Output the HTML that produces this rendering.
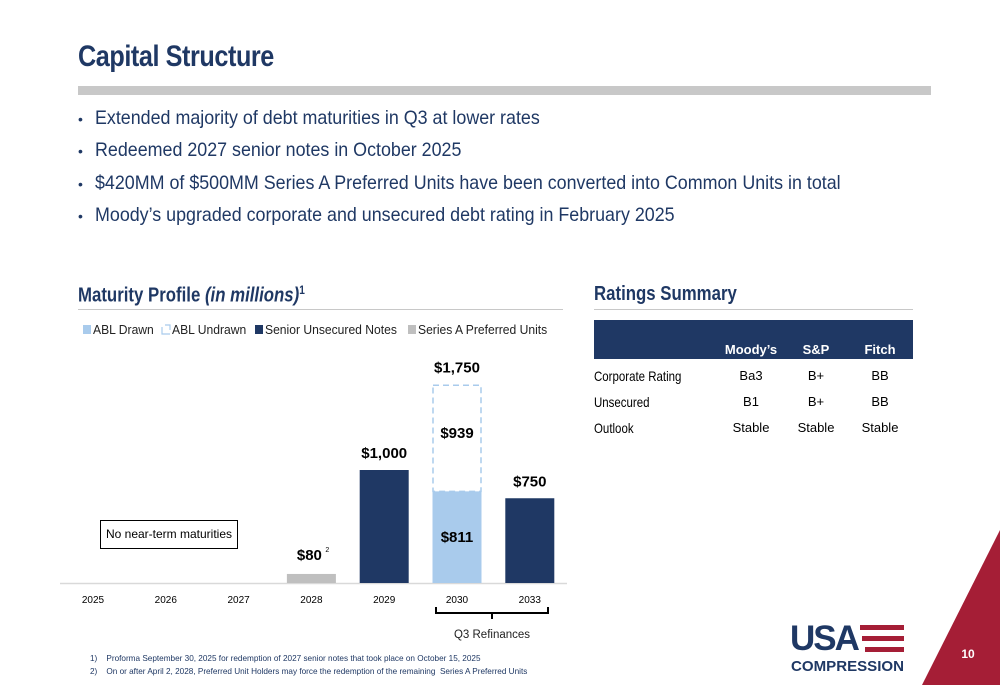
<!DOCTYPE html>
<html><head><meta charset="utf-8">
<style>
body{margin:0;width:1000px;height:685px;overflow:hidden;background:#fff;font-family:"Liberation Sans",sans-serif;position:relative;color:#1f3864}
.a{position:absolute;white-space:nowrap}
.b{font-size:19.5px;color:#1f3864;transform:scaleX(0.916);transform-origin:0 0}
.sx{transform:scaleX(0.84);transform-origin:0 0}
</style></head><body>
<div class="a sx" style="left:78px;top:40px;font-size:30px;font-weight:bold;letter-spacing:-0.5px">Capital Structure</div>
<div class="a" style="left:78px;top:86px;width:853px;height:9px;background:#c8c8c8"></div>
<div>
<div class="a" style="left:78px;top:111px;font-size:14px">•</div><div class="a b" style="left:95px;top:107px">Extended majority of debt maturities in Q3 at lower rates</div>
<div class="a" style="left:78px;top:143px;font-size:14px">•</div><div class="a b" style="left:95px;top:139px">Redeemed 2027 senior notes in October 2025</div>
<div class="a" style="left:78px;top:176px;font-size:14px">•</div><div class="a b" style="left:95px;top:172px">$420MM of $500MM Series A Preferred Units have been converted into Common Units in total</div>
<div class="a" style="left:78px;top:208px;font-size:14px">•</div><div class="a b" style="left:95px;top:204px">Moody’s upgraded corporate and unsecured debt rating in February 2025</div>
</div>
<div class="a sx" style="left:78px;top:283px;font-size:20px;font-weight:bold">Maturity Profile <i>(in millions)</i><sup style="font-size:12px">1</sup></div>
<div class="a" style="left:78px;top:309px;width:485px;height:1px;background:#c8c8c8"></div>
<div class="a sx" style="left:594px;top:283px;font-size:20px;font-weight:bold">Ratings Summary</div>
<div class="a" style="left:594px;top:309px;width:319px;height:1px;background:#c8c8c8"></div>

<div class="a" style="left:594px;top:320px;width:319px;height:39px;background:#1f3864"></div>
<div id="rt"></div>

<svg class="a" style="left:0;top:0" width="1000" height="685" id="chart"></svg>

<div class="a" style="left:100px;top:520px;width:138px;height:29px;border:1.5px solid #000;box-sizing:border-box;font-size:12px;color:#000;text-align:center;line-height:27px">No near-term maturities</div>
<div class="a" style="left:90px;top:654px;font-size:8.2px">1)&nbsp;&nbsp;&nbsp; Proforma September 30, 2025 for redemption of 2027 senior notes that took place on October 15, 2025</div>
<div class="a" style="left:90px;top:667px;font-size:8.2px">2)&nbsp;&nbsp;&nbsp; On or after April 2, 2028, Preferred Unit Holders may force the redemption of the remaining&nbsp; Series A Preferred Units</div>

<svg class="a" style="left:0;top:0" width="1000" height="685">
<polygon points="1000,530 1000,685 922,685" fill="#a51e36"/>
<text x="968" y="658" font-size="12" font-weight="bold" fill="#fff" text-anchor="middle" font-family="Liberation Sans">10</text>
<g>
<text x="790" y="650" font-size="35" font-weight="bold" fill="#1f3864" font-family="Liberation Sans" letter-spacing="-2">USA</text>
<rect x="860" y="625" width="44" height="5" fill="#a51e36"/>
<rect x="862" y="636" width="42" height="5" fill="#a51e36"/>
<rect x="865" y="647" width="39" height="5" fill="#a51e36"/>
<text x="791" y="671" font-size="15" font-weight="bold" fill="#1f3864" font-family="Liberation Sans" textLength="113" lengthAdjust="spacingAndGlyphs">COMPRESSION</text>
</g>
</svg>

<script>
// ratings table
const raters=["Moody’s","S&P","Fitch"];
const rowNames=["Corporate Rating","Unsecured","Outlook"];
const ratings=[["Ba3","B+","BB"],["B1","B+","BB"],["Stable","Stable","Stable"]];
const rt=document.getElementById('rt');
const cx=[751,816,880];
raters.forEach((r,i)=>{const d=document.createElement('div');d.className='a';d.textContent=r;


d.style.cssText=`left:${cx[i]-40}px;width:80px;text-align:center;top:342px;font-size:13px;font-weight:bold;color:#fff`;rt.appendChild(d);});
rowNames.forEach((n,j)=>{const y=368+j*26;const d=document.createElement('div');d.className='a';d.textContent=n;


d.style.cssText=`left:594px;top:${y}px;font-size:14px;color:#000;transform:scaleX(0.82);transform-origin:0 0`;rt.appendChild(d);
ratings[j].forEach((v,i)=>{const e=document.createElement('div');e.className='a';e.textContent=v;


e.style.cssText=`left:${cx[i]-40}px;width:80px;text-align:center;top:${y}px;font-size:13px;color:#000`;rt.appendChild(e);});});

// chart data
const years=["2025","2026","2027","2028","2029","2030","2033"];
const preferred=[0,0,0,80,0,0,0];
const notes=[0,0,0,0,1000,0,750];
const ablDrawn=[0,0,0,0,0,811,0];
const ablUndrawn=[0,0,0,0,0,939,0];
const NS='http://www.w3.org/2000/svg';
const svg=document.getElementById('chart');
const base=583,scale=0.113;
const xc=i=>93+i*72.8, yv=v=>base-v*scale, bw=49;
function el(t,a,txt){const e=document.createElementNS(NS,t);for(const k in a)e.setAttribute(k,a[k]);if(txt!=null)e.textContent=txt;svg.appendChild(e);return e;}
function lab(x,y,s,name){const t=el('text',{x:x,y:y,'text-anchor':'middle','font-size':15,'font-weight':'bold',fill:'#000','font-family':'Liberation Sans, sans-serif'},s);

return t;}
const fmt=v=>'$'+v.toLocaleString('en-US');
// axis
const ax=el('line',{x1:60,x2:567,y1:base+0.5,y2:base+0.5,stroke:'#d9d9d9','stroke-width':1.5});


years.forEach((y,i)=>{const t=el('text',{x:xc(i),y:603,'text-anchor':'middle','font-size':10,fill:'#000','font-family':'Liberation Sans'},y);


const x=xc(i)-bw/2;
if(preferred[i]){const r=el('rect',{x:x,y:yv(preferred[i]),width:bw,height:preferred[i]*scale,fill:'#bfbfbf'});


lab(xc(i)-2,yv(preferred[i])-14,fmt(preferred[i]),'label-preferred');
const s=el('text',{x:xc(i)+14,y:yv(preferred[i])-22,'font-size':7,fill:'#000'},'2');

}
if(notes[i]){const r=el('rect',{x:x,y:yv(notes[i]),width:bw,height:notes[i]*scale,fill:'#1f3864'});


lab(xc(i),yv(notes[i])-12,fmt(notes[i]),'label-notes');}
if(ablDrawn[i]){const r=el('rect',{x:x,y:yv(ablDrawn[i]),width:bw,height:ablDrawn[i]*scale,fill:'#a9cbec'});


lab(xc(i),yv(ablDrawn[i]/2)+5,fmt(ablDrawn[i]),'label-abl-drawn');
const tot=ablDrawn[i]+ablUndrawn[i];
const u=el('rect',{x:x+0.5,y:yv(tot),width:bw-1,height:ablUndrawn[i]*scale,fill:'none',stroke:'#a9cbec','stroke-width':1.5,'stroke-dasharray':'6,4'});


lab(xc(i),yv(ablDrawn[i]+ablUndrawn[i]*0.55)+5,fmt(ablUndrawn[i]),'label-abl-undrawn');
lab(xc(i),yv(tot)-13,fmt(tot),'label-total');}
});
// legend
const leg=[["ABL Drawn",'#a9cbec',83],["ABL Undrawn",null,162],["Senior Unsecured Notes",'#1f3864',255],["Series A Preferred Units",'#bfbfbf',408]];
leg.forEach(l=>{if(l[1]){const r=el('rect',{x:l[2],y:325,width:8,height:9,fill:l[1]});}
else{const p=el('path',{d:`M${l[2]},327 v7 h8 M${l[2]+3},325 h5 v5`,stroke:'#a9cbec',fill:'none','stroke-width':1.2});}
const t=el('text',{x:l[2]+10,y:334,'font-size':12.5,fill:'#222','font-family':'Liberation Sans, sans-serif',transform:`translate(${l[2]+10} 0) scale(0.97 1) translate(${-(l[2]+10)} 0)`},l[0]);

});
// bracket
const br=el('path',{d:'M436,607 v6 h112 v-6 M492,613 v6',stroke:'#000',fill:'none','stroke-width':2});


const q=el('text',{x:492,y:638,'text-anchor':'middle','font-size':11.5,fill:'#222','font-family':'Liberation Sans, sans-serif'},'Q3 Refinances');


</script>
</body></html>
